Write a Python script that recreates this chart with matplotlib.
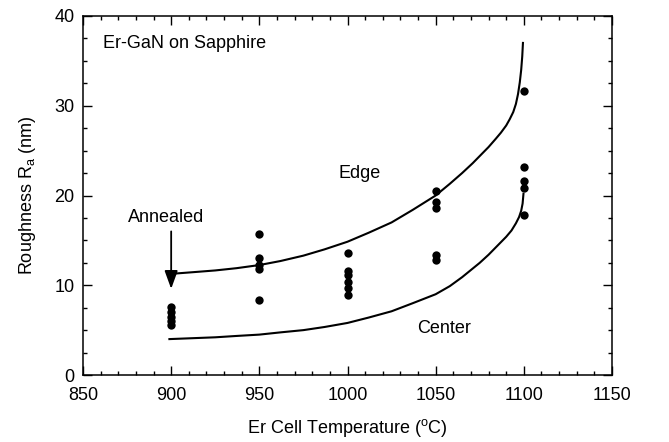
import matplotlib
matplotlib.use("Agg")
import matplotlib.pyplot as plt
from matplotlib.ticker import MultipleLocator

plt.rcParams["font.family"] = ["Liberation Sans", "DejaVu Sans"]
plt.rcParams["mathtext.fontset"] = "custom"
plt.rcParams["mathtext.rm"] = "Liberation Sans"
plt.rcParams["mathtext.it"] = "Liberation Sans:italic"

# Measured roughness per Er cell temperature
temp_900 = [7.6, 7.0, 6.5, 6.0, 5.6]
temp_950 = [15.7, 13.0, 12.3, 11.8, 8.4]
temp_1000 = [13.6, 11.6, 11.1, 10.4, 9.7, 8.9]
temp_1050 = [20.5, 19.3, 18.6, 13.4, 12.8]
temp_1100 = [31.6, 23.2, 21.6, 20.8, 17.8]
cell_temps = [900, 950, 1000, 1050, 1100]
roughness = [temp_900, temp_950, temp_1000, temp_1050, temp_1100]

# Guide curves through edge and center measurements
edge_t = [902, 912, 925, 937, 950, 962, 975, 987, 1000, 1012, 1025, 1037, 1050,
          1058, 1065, 1071, 1076, 1080, 1084, 1087, 1090, 1092, 1094, 1095.5,
          1096.7, 1097.7, 1098.5, 1099.1, 1099.5]
edge_r = [11.3, 11.45, 11.65, 11.9, 12.25, 12.7, 13.3, 14.0, 14.85, 15.85, 17.0, 18.4, 20.0,
          21.3, 22.5, 23.6, 24.6, 25.4, 26.3, 27.0, 27.8, 28.5, 29.3, 30.2,
          31.3, 32.6, 34.0, 35.5, 37.0]
center_t = [899, 912, 925, 937, 950, 962, 975, 987, 1000, 1012, 1025, 1037, 1050,
            1058, 1065, 1070, 1075, 1080, 1085, 1090, 1093, 1095.5, 1097.3, 1098.5,
            1099.3, 1099.8]
center_r = [4.0, 4.1, 4.2, 4.35, 4.5, 4.75, 5.0, 5.35, 5.8, 6.4, 7.1, 8.0, 9.0,
            9.9, 10.9, 11.7, 12.5, 13.4, 14.4, 15.4, 16.1, 16.9, 17.6, 18.3,
            19.1, 20.2]

fig = plt.figure(figsize=(6.69, 4.42), dpi=100)
ax = fig.add_axes([83 / 669, 1 - 375 / 442, (612 - 83) / 669, (375 - 16) / 442])

for t, vals in zip(cell_temps, roughness):
    ax.plot([t] * len(vals), vals, "o", color="black", markersize=6, markeredgewidth=0)

ax.plot(edge_t, edge_r, color="black", lw=1.5, solid_joinstyle="round")
ax.plot(center_t, center_r, color="black", lw=1.5, solid_joinstyle="round")

ax.set_xlim(850, 1150)
ax.set_ylim(0, 40)
ax.xaxis.set_major_locator(MultipleLocator(50))
ax.xaxis.set_minor_locator(MultipleLocator(10))
ax.yaxis.set_major_locator(MultipleLocator(10))
ax.yaxis.set_minor_locator(MultipleLocator(2.5))
ax.tick_params(which="both", direction="in", top=True, right=True, labelsize=13, width=1.0)
ax.tick_params(which="major", length=6.5, pad=6)
ax.tick_params(axis="x", which="major", pad=9)
ax.tick_params(which="minor", length=3)
for s in ax.spines.values():
    s.set_linewidth(1.1)

ax.set_xlabel("Er Cell Temperature ($^{\\rm o}$C)", fontsize=13, labelpad=9)
ax.set_ylabel("Roughness R$_{\\rm a}$ (nm)", fontsize=13, labelpad=12)

ax.text(861.5, 36.9, "Er-GaN on Sapphire", fontsize=13, va="center", ha="left")
ax.text(1007, 22.5, "Edge", fontsize=13, va="center", ha="center")
ax.text(1055, 5.2, "Center", fontsize=13, va="center", ha="center")
ax.text(897, 17.5, "Annealed", fontsize=13, va="center", ha="center")
ax.annotate("", xy=(900, 9.6), xytext=(900, 16.0),
            arrowprops=dict(arrowstyle="-|>,head_length=1.1,head_width=0.4",
                            color="black", lw=1.3, shrinkA=0, shrinkB=0))

fig.savefig("out.png", dpi=100)
